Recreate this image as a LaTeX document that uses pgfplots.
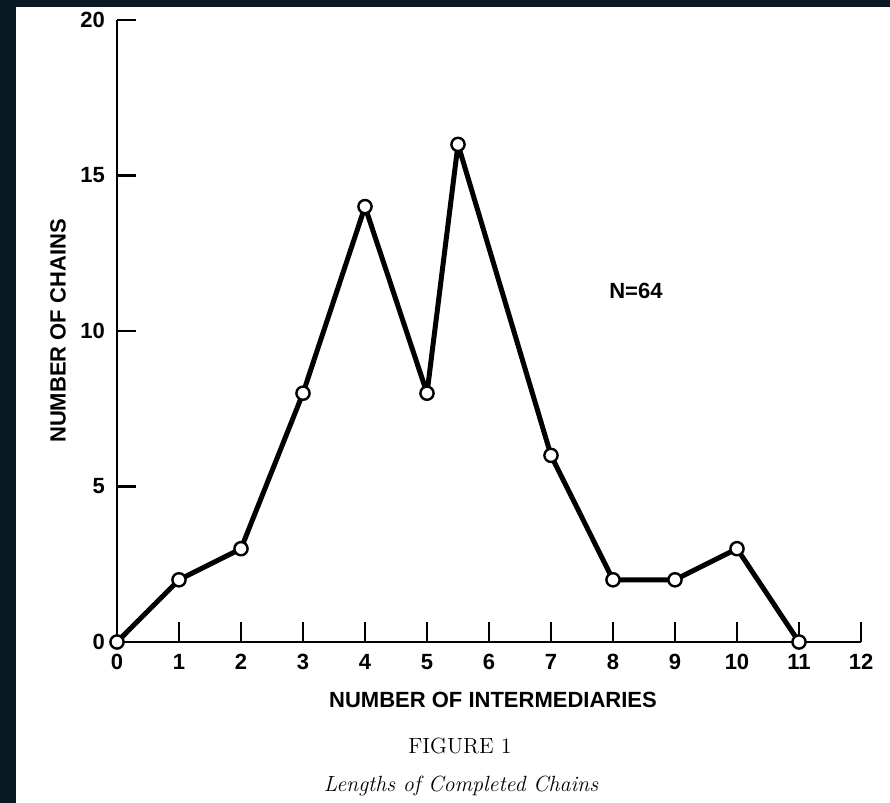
\documentclass[border=0pt]{standalone}
\usepackage{fontspec}
\usepackage{pgfplots}
\pgfplotsset{compat=1.18}
\newfontfamily\lettering{Liberation Sans}
\definecolor{frame}{RGB}{9,26,37}
\newcommand\letterfont{\lettering\bfseries\fontsize{11}{13}\selectfont}

\begin{document}
\begin{tikzpicture}
  % page: 890x803 px at 0.5pt per px
  \useasboundingbox (0,0) rectangle (445pt,401.5pt);
  \fill[frame] (0,0) rectangle (445pt,401.5pt);
  \fill[white] (8pt,0) rectangle (445pt,398pt);

  \begin{axis}[
      at={(58.5pt,80.5pt)}, anchor=south west,
      scale only axis,
      width=372pt, height=311pt,
      xmin=0, xmax=12, ymin=0, ymax=20,
      axis lines=left,
      axis line style={-, line width=1.1pt},
      tick align=inside,
      major tick length=9.75pt,
      tick style={black, line width=1.1pt},
      xtick={0,...,12},
      ytick={0,5,10,15,20},
      /pgf/number format/assume math mode=true,
      ticklabel style={font=\letterfont},
      xticklabel style={yshift=-2.5pt},
      yticklabel style={xshift=-2.5pt},
      clip=false,
  ]
  % lengths of completed chains
  \addplot[
      black,
      line width=2.5pt,
      line join=round,
      mark=*,
      mark size=3.3pt,
      mark options={fill=white, line width=1.2pt},
  ] coordinates {
      (0,0) (1,2) (2,3) (3,8) (4,14) (5,8) (5.5,16)
      (7,6) (8,2) (9,2) (10,3) (11,0)
  };

  \node[font=\letterfont] at (axis cs:8.37,11.3) {N=64};
  \end{axis}

  \node[font=\letterfont] at (246.5pt,51.5pt) {NUMBER OF INTERMEDIARIES};
  \node[font=\letterfont, rotate=90] at (29pt,236pt) {NUMBER OF CHAINS};
  \node[font=\fontsize{11}{13}\selectfont] at (230pt,28.5pt) {FIGURE 1};
  \node[font=\itshape\fontsize{11}{13}\selectfont, anchor=base] at (230.5pt,5.5pt) {Lengths of Completed Chains};
\end{tikzpicture}
\end{document}
